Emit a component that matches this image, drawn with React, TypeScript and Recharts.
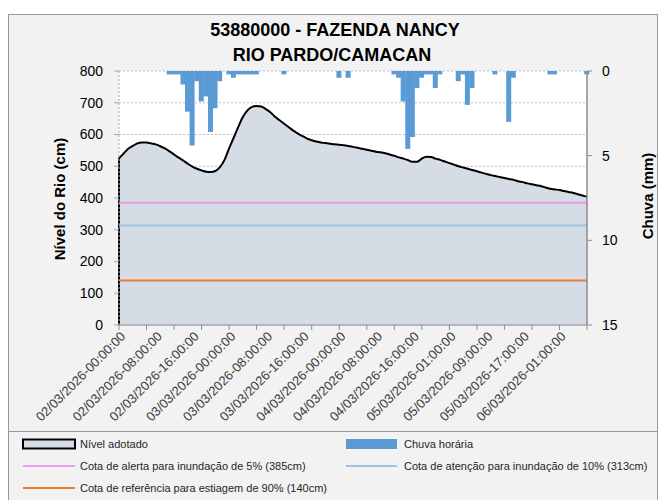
import React from "react";
import { ComposedChart, Area, Bar, XAxis, YAxis, CartesianGrid, ReferenceLine } from "recharts";

// hourly samples, one label every 8 samples
const tickLabels = [
  "02/03/2026-00:00:00",
  "02/03/2026-08:00:00",
  "02/03/2026-16:00:00",
  "03/03/2026-00:00:00",
  "03/03/2026-08:00:00",
  "03/03/2026-16:00:00",
  "04/03/2026-00:00:00",
  "04/03/2026-08:00:00",
  "04/03/2026-16:00:00",
  "05/03/2026-01:00:00",
  "05/03/2026-09:00:00",
  "05/03/2026-17:00:00",
  "06/03/2026-01:00:00",
];

// Nível adotado (cm)
const nivel = [
  525, 540, 555, 564, 572, 575, 575, 572, 569, 563,
  556, 547, 537, 527, 518, 508, 499, 492, 487, 483,
  482, 485, 497, 520, 556, 590, 624, 655, 676, 687,
  690, 688, 680, 670, 656, 645, 634, 623, 612, 603,
  595, 587, 582, 578, 575, 573, 571, 569, 568, 566,
  564, 561, 558, 555, 552, 549, 546, 544, 541, 537,
  533, 528, 524, 519, 514, 514, 524, 530, 529, 524,
  520, 515, 510, 505, 500, 496, 492, 488, 484, 480,
  476, 472, 469, 466, 463, 460, 457, 453, 450, 446,
  443, 440, 437, 433, 429, 427, 425, 422, 419, 416,
  412, 408, 404,
];

// Chuva horária (mm)
const chuva = [
  0, 0, 0, 0, 0, 0, 0, 0, 0, 0,
  0, 0.2, 0.2, 0.2, 0.8, 2.4, 4.4, 0.6, 1.8, 1.5,
  3.6, 2.2, 0.6, 0, 0.2, 0.4, 0.2, 0.2, 0.2, 0.2,
  0.2, 0, 0, 0, 0, 0, 0.2, 0, 0, 0,
  0, 0, 0, 0, 0, 0, 0, 0, 0.4, 0,
  0.4, 0, 0, 0, 0, 0, 0, 0, 0, 0,
  0.2, 0.4, 1.8, 4.6, 3.9, 1.0, 0.4, 0.2, 0.2, 1.0,
  0.2, 0, 0, 0, 0.6, 0.2, 2.0, 1.0, 0, 0,
  0, 0, 0.2, 0, 0, 3.0, 0.4, 0, 0, 0,
  0, 0, 0, 0, 0.2, 0.2, 0, 0, 0, 0,
  0, 0, 0.2,
];

const COTA_ALERTA = 385;
const COTA_ATENCAO = 313;
const COTA_ESTIAGEM = 140;

const leftTicks = [0, 100, 200, 300, 400, 500, 600, 700, 800];
const rightTicks = [0, 5, 10, 15];

const COLORS = {
  area: "#d6dce5",
  rain: "#5b9bd5",
  alerta: "#ee9bee",
  atencao: "#9dc3e6",
  estiagem: "#ed7d31",
  axis: "#8c8c8c",
};

const FONT = "'Liberation Sans', Arial, sans-serif";

const data = nivel.map((v, i) => ({ i, nivel: v, chuva: chuva[i] || null }));
const lastIndex = nivel.length - 1;
const xTicks = data.map((d) => d.i).filter((i) => i % 6 === 0 || i % 8 === 0);

function XTick({ x, y, payload }: any) {
  const i = payload.value;
  const label = i % 8 === 0 ? tickLabels[i / 8] : null;
  const px = x + 4;
  const py = y + 9;
  return (
    <g>
      {i % 6 === 0 && <line x1={x} x2={x} y1={y} y2={y + 5} stroke={COLORS.axis} />}
      {label && (
        <text
          x={px}
          y={py}
          dy="0.35em"
          textAnchor="end"
          transform={`rotate(-45 ${px} ${py})`}
          fontSize={13}
          fontFamily={FONT}
          fill="#404040"
        >
          {label}
        </text>
      )}
    </g>
  );
}

// rain bars fill the whole hour slot, centred on the library's bar position
function RainBar(props: any) {
  const x = Number(props.x);
  const y = Number(props.y);
  const width = Number(props.width);
  const height = Number(props.height);
  if (!isFinite(height) || height === 0) return <g />;
  const w = 5;
  const top = Math.min(y, y + height);
  return <rect x={x + width / 2 - w / 2} y={top} width={w} height={Math.abs(height)} fill={COLORS.rain} />;
}

export default function App() {
  return (
    <div style={{ position: "absolute", left: 0, top: 0, width: 665, height: 500, background: "#fff", overflow: "hidden" }}>
      {/* frame */}
      <div
        style={{
          position: "absolute",
          left: 8,
          top: 14,
          width: 648,
          height: 500,
          border: "1.5px solid #999",
          background: "#f2f2f2",
        }}
      />
      <div style={{ position: "absolute", left: 8, top: 431, width: 650, height: 1, background: "#999" }} />

      <div style={{ position: "absolute", left: 0, top: 0 }}>
        <ComposedChart
          width={665}
          height={500}
          data={data}
          margin={{ top: 71, right: 28, bottom: 75, left: 39 }}
        >
          <CartesianGrid
            yAxisId="left"
            vertical={false}
            stroke="#bfbfbf"
            strokeDasharray="2 2"
            fill="#ffffff"
            fillOpacity={1}
          />
          <XAxis
            dataKey="i"
            type="number"
            domain={[0, lastIndex]}
            ticks={xTicks}
            interval={0}
            height={100}
            tickLine={false}
            tickSize={0}
            tickMargin={0}
            axisLine={{ stroke: COLORS.axis }}
            tick={<XTick />}
          />
          <YAxis
            yAxisId="left"
            domain={[0, 800]}
            ticks={leftTicks}
            interval={0}
            width={80}
            axisLine={{ stroke: "#a6a6a6", strokeDasharray: "2 2" }}
            tickLine={{ stroke: "#a6a6a6" }}
            tickSize={5}
            tickMargin={11}
            tick={{ fontSize: 14, fill: "#000", fontFamily: FONT }}
          />
          <YAxis
            yAxisId="right"
            orientation="right"
            reversed
            domain={[0, 15]}
            ticks={rightTicks}
            interval={0}
            width={50}
            axisLine={{ stroke: COLORS.axis, strokeWidth: 1.5 }}
            tickLine={{ stroke: COLORS.axis }}
            tickSize={5}
            tickMargin={10}
            tick={{ fontSize: 14, fill: "#000", fontFamily: FONT }}
          />
          <Area
            yAxisId="left"
            dataKey="nivel"
            type="monotone"
            fill={COLORS.area}
            fillOpacity={1}
            stroke="#000"
            strokeWidth={2}
            dot={false}
            activeDot={false}
            isAnimationActive={false}
          />
          <ReferenceLine
            yAxisId="left"
            segment={[
              { x: 0, y: 0 },
              { x: 0, y: nivel[0] },
            ]}
            stroke="#000"
            strokeWidth={2}
          />
          <ReferenceLine yAxisId="left" y={COTA_ALERTA} stroke={COLORS.alerta} strokeWidth={2} />
          <ReferenceLine yAxisId="left" y={COTA_ATENCAO} stroke={COLORS.atencao} strokeWidth={2} />
          <ReferenceLine yAxisId="left" y={COTA_ESTIAGEM} stroke={COLORS.estiagem} strokeWidth={2} />
          <Bar
            yAxisId="right"
            dataKey="chuva"
            fill={COLORS.rain}
            barSize={4}
            shape={RainBar}
            isAnimationActive={false}
          />
        </ComposedChart>
      </div>

      {/* titles and legend */}
      <svg width={665} height={500} style={{ position: "absolute", left: 0, top: 0, pointerEvents: "none" }}>
        <g fontFamily={FONT} fontWeight="bold" fill="#000" textAnchor="middle">
          <text x={335} y={30} dy="0.35em" fontSize={18}>53880000 - FAZENDA NANCY</text>
          <text x={332} y={55} dy="0.35em" fontSize={18}>RIO PARDO/CAMACAN</text>
          <text x={60} y={199} dy="0.35em" fontSize={15} transform="rotate(-90 60 199)">Nível do Rio (cm)</text>
          <text x={648} y={196} dy="0.35em" fontSize={15} transform="rotate(-90 648 196)">Chuva (mm)</text>
        </g>
        <g fontFamily={FONT} fontSize={11} fill="#262626">
          <rect x={23} y={439.5} width={52} height={9} fill={COLORS.area} stroke="#000" strokeWidth={2} />
          <text x={80} y={444} dy="0.35em">Nível adotado</text>
          <rect x={346} y={439} width={51} height={10} fill={COLORS.rain} />
          <text x={404} y={444} dy="0.35em">Chuva horária</text>
          <line x1={23} x2={75} y1={466} y2={466} stroke={COLORS.alerta} strokeWidth={2} />
          <text x={80} y={466} dy="0.35em">Cota de alerta para inundação de 5% (385cm)</text>
          <line x1={346} x2={397} y1={466} y2={466} stroke={COLORS.atencao} strokeWidth={2} />
          <text x={404} y={466} dy="0.35em">Cota de atenção para inundação de 10% (313cm)</text>
          <line x1={23} x2={75} y1={488} y2={488} stroke={COLORS.estiagem} strokeWidth={2} />
          <text x={80} y={488} dy="0.35em">Cota de referência para estiagem de 90% (140cm)</text>
        </g>
      </svg>
    </div>
  );
}
